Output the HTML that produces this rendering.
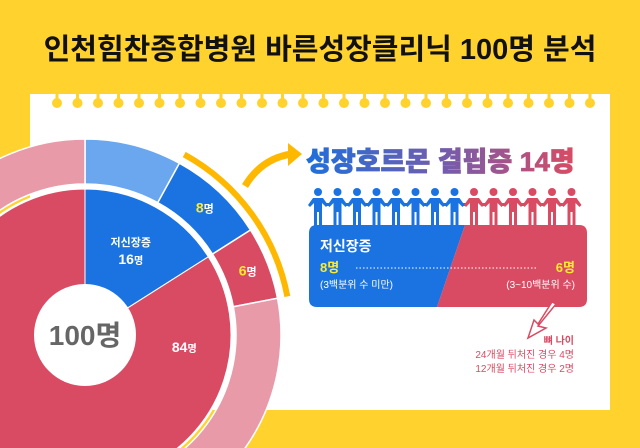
<!DOCTYPE html>
<html><head><meta charset="utf-8">
<style>
body{margin:0;width:640px;height:448px;overflow:hidden;background:#FFD22E;font-family:"Liberation Sans","Noto Sans CJK KR",sans-serif;}
svg{display:block;overflow:hidden}
</style></head><body>
<svg id="chart" width="640" height="448" viewBox="0 0 640 448">
  <defs>
    <linearGradient id="hg" x1="0" x2="1" y1="0" y2="0">
      <stop offset="0" stop-color="#1E6FDC"/><stop offset="0.55" stop-color="#7A5BA8"/><stop offset="1" stop-color="#D94B63"/>
    </linearGradient>
  </defs>
  <text x="320" y="59" text-anchor="middle" font-size="29" font-weight="bold" fill="#111">인천힘찬종합병원 바른성장클리닉 100명 분석</text>
  <rect x="30" y="94" width="580" height="316" fill="#fff"/>
  <g id="pegs"></g>
  <g id="donut"></g>
  <path d="M245,186 Q262,158 292,154" fill="none" stroke="#FFB800" stroke-width="7"/>
  <polygon points="288,143 302,154 288,166" fill="#FFB800"/>
  <text x="306" y="171" font-size="27" font-weight="900" fill="url(#hg)" stroke="url(#hg)" stroke-width="0.8">성장호르몬 결핍증 14명</text>
  <g id="people"></g>
  <g>
    <path d="M317,225 H465 L437,307 H317 Q309,307 309,299 V233 Q309,225 317,225 Z" fill="#1A73E0"/>
    <path d="M465,225 H579 Q587,225 587,233 V299 Q587,307 579,307 H437 Z" fill="#D94B63"/>
    <text x="320" y="251" font-size="14" font-weight="bold" fill="#fff">저신장증</text>
    <text x="320" y="272" font-size="13" font-weight="bold" fill="#FFEA2E">8명</text>
    <line x1="356" y1="268" x2="536" y2="268" stroke="#fff" stroke-width="1" stroke-dasharray="1.5,2"/>
    <text x="575" y="272" font-size="13" font-weight="bold" fill="#FFEA2E" text-anchor="end">6명</text>
    <text x="320" y="288" font-size="10" fill="#fff">(3백분위 수 미만)</text>
    <text x="575" y="288" font-size="10" fill="#fff" text-anchor="end">(3~10백분위 수)</text>
  </g>
  <path d="M556,304 L538,326 L546,328 L528,338 L534,320 L538,324 L552,302 Z" fill="#fff" stroke="#D94B63" stroke-width="1.5"/>
  <g font-size="10" fill="#D94B63" text-anchor="end">
    <text x="574" y="344" font-weight="bold">뼈 나이</text>
    <text x="574" y="358">24개월 뒤처진 경우 4명</text>
    <text x="574" y="372">12개월 뒤처진 경우 2명</text>
  </g>
</svg>
<script>
const innerLabels = ['저신장증', '기타'];
const innerValues = [16, 84];
const outerValues = [8, 8, 6, 78];
const outerLabels = ['', '8명', '6명', ''];
const NS = 'http://www.w3.org/2000/svg';
const cx = 85, cy = 335;
const innerColors = ['#1A73E0', '#D94B63'];
const outerColors = ['#6AA7EE', '#1A73E0', '#D94B63', '#E89AA8'];
function pt(r, a){ const t = a*Math.PI/180; return [cx + r*Math.sin(t), cy - r*Math.cos(t)]; }
function angleScale(v, total){ return v/total*360; }
function arc(r0, r1, a0, a1){
  const big = (a1-a0) > 180 ? 1 : 0;
  const p0 = pt(r1,a0), p1 = pt(r1,a1), p2 = pt(r0,a1), p3 = pt(r0,a0);
  if (r0 === 0) return `M${cx},${cy} L${p0} A${r1},${r1} 0 ${big} 1 ${p1} Z`;
  return `M${p0} A${r1},${r1} 0 ${big} 1 ${p1} L${p2} A${r0},${r0} 0 ${big} 0 ${p3} Z`;
}
const donut = document.getElementById('donut');
function add(parent, tag, attrs){ const e = document.createElementNS(NS, tag); for (const k in attrs) e.setAttribute(k, attrs[k]); parent.appendChild(e); return e; }
let tot = outerValues.reduce((a,b)=>a+b,0), acc = 0;
outerValues.forEach((v,i)=>{
  const a0 = angleScale(acc,tot), a1 = angleScale(acc+v,tot); acc += v;
  const p = add(donut,'path',{d:arc(151,196,a0,a1),fill:outerColors[i],stroke:'#fff','stroke-width':1.5});
  
  
  if (outerLabels[i]) {
    const m = pt(175,(a0+a1)/2);
    const t = add(donut,'text',{x:m[0],y:m[1]+5,'text-anchor':'middle','font-size':11,'font-weight':'bold',fill:'#fff'});
    t.innerHTML = `<tspan fill="#FFEA2E" font-size="14">${outerValues[i]}</tspan>명`;
    
    
  }
});
tot = innerValues.reduce((a,b)=>a+b,0); acc = 0;
add(donut,'circle',{cx:cx,cy:cy,r:148,fill:'#fff'});
innerValues.forEach((v,i)=>{
  const a0 = angleScale(acc,tot), a1 = angleScale(acc+v,tot); acc += v;
  const p = add(donut,'path',{d:arc(0,146,a0,a1),fill:innerColors[i],stroke:'#fff','stroke-width':1});
  
  
  const m = pt(i===0?95:100,(a0+a1)/2 + (i===0?0:-112));
  if (i===0){
    const t1 = add(donut,'text',{x:m[0],y:m[1]-6,'text-anchor':'middle','font-size':11,'font-weight':'bold',fill:'#fff'});
    t1.textContent = innerLabels[i];
    
    
  }
  const t2 = add(donut,'text',{x:m[0],y:m[1]+(i===0?12:5),'text-anchor':'middle','font-size':14,'font-weight':'bold',fill:'#fff'});
  t2.innerHTML = `${v}<tspan font-size="10">명</tspan>`;
  
  
});
const hole = add(donut,'circle',{cx:cx,cy:cy,r:51,fill:'#fff'});


const ct = add(donut,'text',{x:cx,y:cy+10,'text-anchor':'middle','font-size':28,'font-weight':'bold',fill:'#666'});
ct.textContent = '100명';


const ha0 = angleScale(outerValues[0], 100), ha1 = angleScale(outerValues[0]+outerValues[1]+outerValues[2], 100);
const h0 = pt(206,ha0), h1 = pt(206,ha1);
const hl = add(donut,'path',{d:`M${h0} A206,206 0 0 1 ${h1}`,fill:'none',stroke:'#FFB800','stroke-width':6});


const pegs = document.getElementById('pegs');
for (let x = 57; x <= 592; x += 20.5) {
  const s = add(pegs,'rect',{x:x-1.5,y:86,width:3,height:14,fill:'#FFD22E'});
  
  
  const c = add(pegs,'circle',{cx:x,cy:103,r:5,fill:'#FFD22E'});
  
  
}
const people = document.getElementById('people');
for (let i = 0; i < 14; i++) {
  const x = 318 + i*19.5, col = i < 8 ? '#1A73E0' : '#D94B63';
  const g = add(people,'g',{fill:col});
  
  
  add(g,'circle',{cx:x,cy:192,r:4});
  add(g,'path',{d:`M${x-10},205 L${x-5},198 H${x+5} L${x+10},205 L${x+8},207 L${x+4},203 V226 H${x+1} V212 H${x-1} V226 H${x-4} V203 L${x-8},207 Z`});
  if (i < 13) add(g,'rect',{x:x+8,y:203,width:4,height:3});
}
</script>
</body></html>
